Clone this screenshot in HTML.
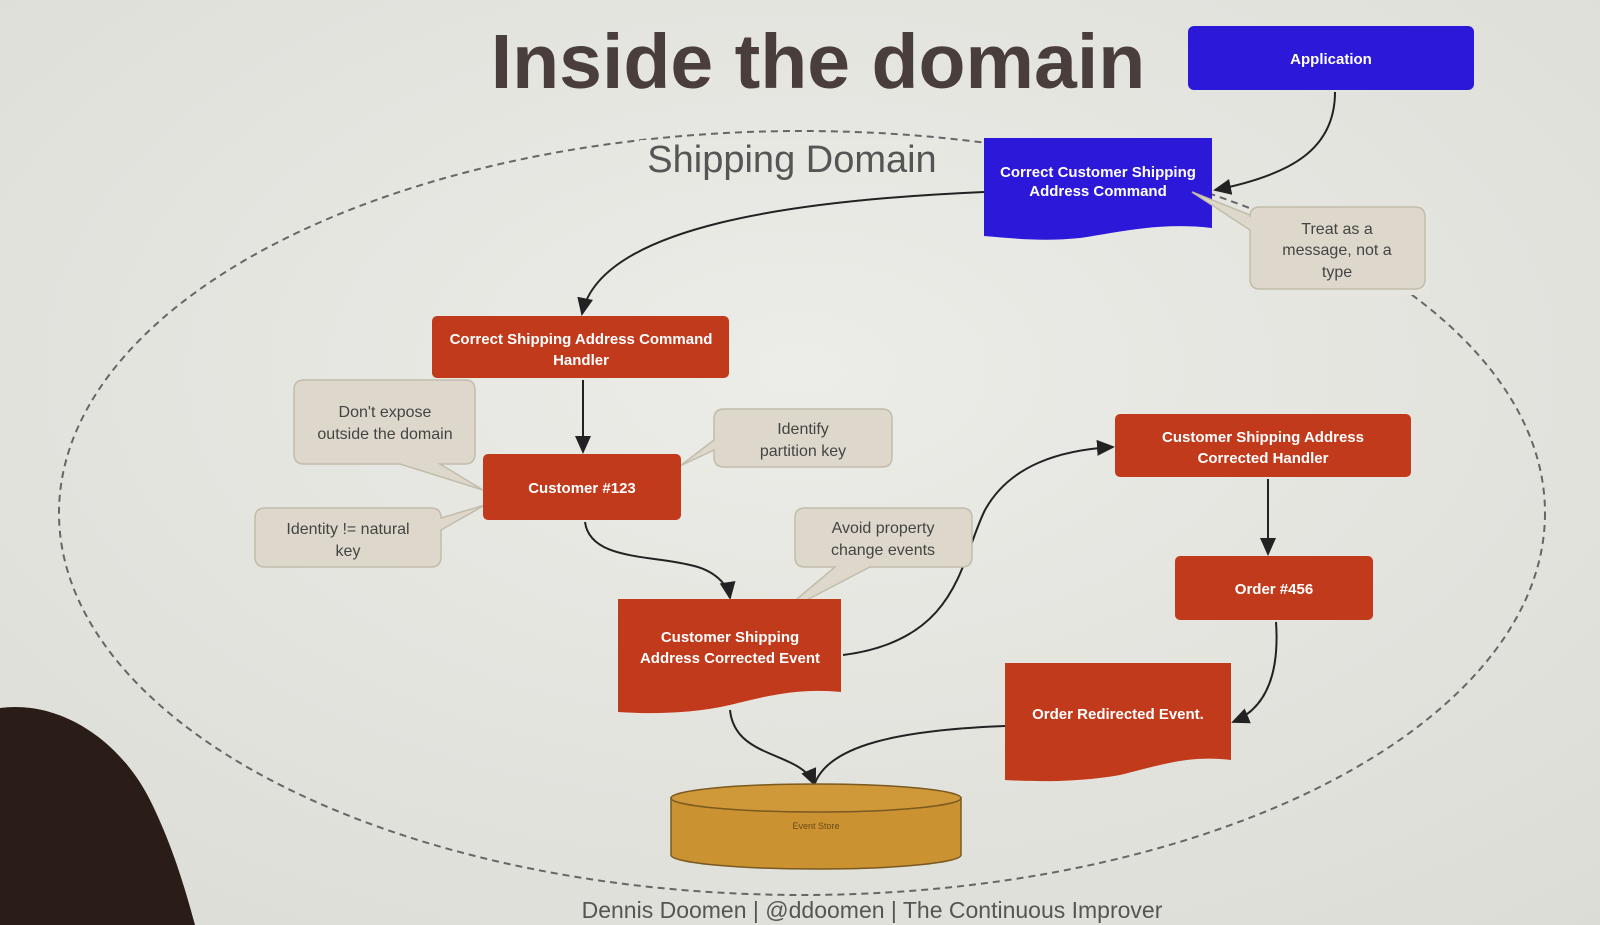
<!DOCTYPE html>
<html><head><meta charset="utf-8"><style>
html,body{margin:0;padding:0;width:1600px;height:925px;overflow:hidden;background:#e8e8e3}
svg{display:block}
text{font-family:"Liberation Sans",sans-serif}
</style></head><body>
<svg width="1600" height="925" viewBox="0 0 1600 925" xmlns="http://www.w3.org/2000/svg">
<defs>
<radialGradient id="bg" cx="0.5" cy="0.4" r="0.8">
<stop offset="0" stop-color="#ecece8"/><stop offset="1" stop-color="#dcdcd6"/></radialGradient>
<marker id="ar" markerWidth="10" markerHeight="10" refX="8" refY="5" orient="auto"><path d="M0,1 L9,5 L0,9 z" fill="#222"/></marker>
</defs>
<rect width="1600" height="925" fill="url(#bg)"/>
<!-- head -->
<path d="M0,708 C60,700 120,740 150,800 C175,850 188,900 195,925 L0,925 Z" fill="#2a1d18"/>

<!-- ellipse -->
<ellipse cx="802" cy="513" rx="743" ry="382" fill="none" stroke="#666" stroke-width="2" stroke-dasharray="7,5"/>
<rect x="640" y="140" width="305" height="40" fill="#e8e8e3"/>
<rect x="1250" y="210" width="180" height="85" fill="#e6e6e1"/>
<text x="792" y="172" font-size="38" fill="#555" text-anchor="middle">Shipping Domain</text>

<!-- title -->
<text x="818" y="88" font-size="77" font-weight="bold" fill="#4a3e3d" text-anchor="middle">Inside the domain</text>

<!-- connectors -->
<g fill="none" stroke="#222" stroke-width="2">
<path d="M1335,92 C1335,150 1290,175 1215,190" marker-end="url(#ar)"/>
<path d="M984,192 C800,200 600,225 582,314" marker-end="url(#ar)"/>
<path d="M583,380 L583,452" marker-end="url(#ar)"/>
<path d="M585,522 C590,560 650,555 690,565 C715,570 728,585 730,598" marker-end="url(#ar)"/>
<path d="M843,655 C960,640 960,560 985,510 C1010,465 1060,450 1113,447" marker-end="url(#ar)"/>
<path d="M1268,479 L1268,554" marker-end="url(#ar)"/>
<path d="M1276,622 C1280,680 1262,710 1233,722" marker-end="url(#ar)"/>
<path d="M730,710 C735,760 800,750 815,785" marker-end="url(#ar)"/>
<path d="M1005,726 C900,730 830,745 815,783"/>
</g>

<!-- Application -->
<rect x="1188" y="26" width="286" height="64" rx="6" fill="#2b18d8"/>
<text x="1331" y="64" font-size="15" font-weight="bold" fill="#fff" text-anchor="middle">Application</text>

<!-- Command doc -->
<path d="M984,138 L1212,138 L1212,228 C1160,222 1120,232 1080,238 C1040,242 1010,238 984,236 Z" fill="#2b18d8"/>
<text x="1098" y="177" font-size="15" font-weight="bold" fill="#fff" text-anchor="middle">Correct Customer Shipping</text>
<text x="1098" y="196" font-size="15" font-weight="bold" fill="#fff" text-anchor="middle">Address Command</text>

<!-- notes -->
<g fill="#ddd8cb" stroke="#c2bcaa" stroke-width="1.5">
<path d="M1260,207 L1415,207 Q1425,207 1425,217 L1425,279 Q1425,289 1415,289 L1260,289 Q1250,289 1250,279 L1250,230 L1192,192 L1250,215 L1250,217 Q1250,207 1260,207 Z"/>
<path d="M304,380 L465,380 Q475,380 475,390 L475,454 Q475,464 465,464 L440,464 L483,490 L400,464 L304,464 Q294,464 294,454 L294,390 Q294,380 304,380 Z"/>
<path d="M724,409 L882,409 Q892,409 892,419 L892,457 Q892,467 882,467 L724,467 Q714,467 714,457 L714,450 L680,466 L714,440 L714,419 Q714,409 724,409 Z"/>
<path d="M265,508 L431,508 Q441,508 441,518 L441,518 L485,505 L441,530 L441,557 Q441,567 431,567 L265,567 Q255,567 255,557 L255,518 Q255,508 265,508 Z"/>
<path d="M805,508 L962,508 Q972,508 972,518 L972,557 Q972,567 962,567 L870,567 L778,615 L835,567 L805,567 Q795,567 795,557 L795,518 Q795,508 805,508 Z"/>
</g>
<g font-size="16" fill="#444" text-anchor="middle">
<text x="1337" y="234">Treat as a</text><text x="1337" y="255">message, not a</text><text x="1337" y="277">type</text>
<text x="385" y="417">Don't expose</text><text x="385" y="439">outside the domain</text>
<text x="803" y="434">Identify</text><text x="803" y="456">partition key</text>
<text x="348" y="534">Identity != natural</text><text x="348" y="556">key</text>
<text x="883" y="533">Avoid property</text><text x="883" y="555">change events</text>
</g>

<!-- red boxes -->
<g fill="#c23a1c">
<rect x="432" y="316" width="297" height="62" rx="5"/>
<rect x="483" y="454" width="198" height="66" rx="5"/>
<rect x="1115" y="414" width="296" height="63" rx="5"/>
<rect x="1175" y="556" width="198" height="64" rx="5"/>
<path d="M618,599 L841,599 L841,692 C800,688 770,695 730,705 C690,714 650,714 618,712 Z"/>
<path d="M1005,663 L1231,663 L1231,760 C1190,755 1160,765 1120,775 C1080,782 1040,782 1005,780 Z"/>
</g>
<g font-size="15" font-weight="bold" fill="#fff" text-anchor="middle">
<text x="581" y="344">Correct Shipping Address Command</text><text x="581" y="365">Handler</text>
<text x="582" y="493">Customer #123</text>
<text x="1263" y="442">Customer Shipping Address</text><text x="1263" y="463">Corrected Handler</text>
<text x="1274" y="594">Order #456</text>
<text x="730" y="642">Customer Shipping</text><text x="730" y="663">Address Corrected Event</text>
<text x="1118" y="719">Order Redirected Event.</text>
</g>

<!-- event store -->
<path d="M671,798 L671,855 A145,14 0 0 0 961,855 L961,798 Z" fill="#cb9232" stroke="#7a5a20" stroke-width="1.5"/>
<ellipse cx="816" cy="798" rx="145" ry="14" fill="#cf9838" stroke="#7a5a20" stroke-width="1.5"/>
<text x="816" y="829" font-size="9" fill="#6a4a18" text-anchor="middle">Event Store</text>

<!-- footer -->
<text x="872" y="918" font-size="23" fill="#555" text-anchor="middle">Dennis Doomen | @ddoomen | The Continuous Improver</text>
</svg>
</body></html>
